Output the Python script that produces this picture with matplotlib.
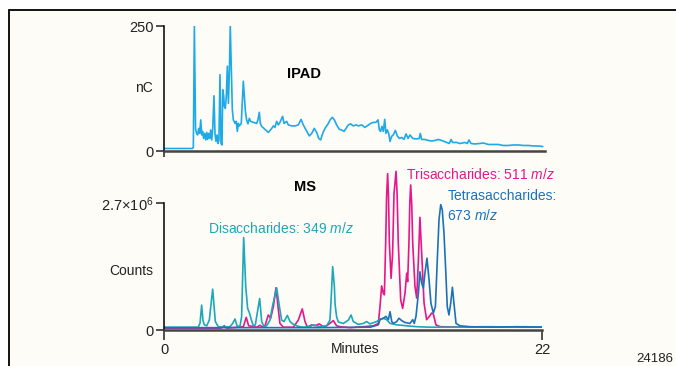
import matplotlib
matplotlib.use('Agg')
import matplotlib.pyplot as plt
from matplotlib.patches import Rectangle

# --- data ---
# IPAD trace (minutes, nC)
ipad_min = [0.00, 1.63, 1.69, 1.75, 1.82, 1.88, 1.94, 2.00, 2.06, 2.12, 2.18, 2.23, 2.29, 2.35,
            2.41, 2.47, 2.52, 2.58, 2.64, 2.70, 2.76, 2.82, 2.89, 2.95, 3.01, 3.07, 3.13, 3.18,
            3.24, 3.30, 3.36, 3.40, 3.46, 3.49, 3.55, 3.61, 3.67, 3.73, 3.79, 3.84, 3.90, 3.96,
            4.02, 4.12, 4.19, 4.25, 4.31, 4.37, 4.48, 4.54, 4.60, 4.66, 4.72, 4.79, 4.87, 4.95,
            5.03, 5.18, 5.38, 5.45, 5.53, 5.59, 5.67, 5.86, 6.06, 6.25, 6.35, 6.44, 6.54, 6.64,
            6.73, 6.89, 6.97, 7.12, 7.22, 7.41, 7.61, 7.80, 7.96, 8.09, 8.25, 8.44, 8.58, 8.73,
            8.87, 8.99, 9.10, 9.22, 9.35, 9.55, 9.65, 9.78, 9.90, 10.03, 10.19, 10.32, 10.46,
            10.58, 10.71, 10.85, 11.00, 11.16, 11.31, 11.49, 11.68, 11.88, 12.01, 12.17, 12.32,
            12.44, 12.52, 12.59, 12.67, 12.75, 12.83, 12.90, 12.98, 13.06, 13.14, 13.23, 13.33,
            13.45, 13.56, 13.68, 13.82, 13.95, 14.07, 14.19, 14.30, 14.46, 14.69, 14.84, 14.90,
            14.98, 15.17, 15.37, 15.56, 15.76, 15.95, 16.14, 16.43, 16.59, 16.69, 16.78, 17.02,
            17.21, 17.50, 17.64, 17.73, 17.85, 18.08, 18.37, 18.57, 18.86, 19.15, 19.44, 19.73,
            20.02, 20.31, 20.61, 20.90, 21.19, 21.48, 21.77, 22.02]
ipad_nc = [6, 6, 8, 250, 45, 36, 33, 46, 36, 63, 33, 40, 26, 36,
           23, 38, 24, 36, 26, 43, 23, 46, 111, 36, 20, 33, 16, 23,
           153, 16, 13, 123, 110, 90, 86, 110, 170, 96, 163, 250, 163, 83,
           63, 56, 60, 40, 56, 51, 56, 96, 140, 110, 80, 63, 55, 66,
           60, 58, 56, 63, 78, 56, 50, 44, 38, 46, 51, 48, 60, 53,
           58, 70, 56, 60, 53, 51, 51, 53, 64, 53, 43, 31, 36, 46,
           38, 26, 23, 36, 46, 56, 63, 68, 63, 53, 44, 43, 40,
           46, 53, 55, 51, 53, 51, 53, 48, 53, 56, 58, 58,
           63, 43, 40, 50, 40, 64, 36, 43, 36, 20, 30, 33,
           42, 31, 26, 28, 24, 35, 26, 33, 26, 25, 26, 36,
           24, 24, 22, 21, 22, 24, 22, 18, 16, 24, 18, 18,
           16, 18, 16, 23, 16, 15, 16, 17, 14, 14, 14, 12,
           12, 13, 13, 12, 12, 11, 11, 10]

# MS traces (minutes, counts in millions)
di_min = [0.00, 1.98, 2.08, 2.175, 2.25, 2.33, 2.47, 2.62, 2.815, 2.97, 3.145, 3.44, 3.82, 3.98,
          4.115, 4.25, 4.41, 4.50, 4.62, 4.74, 4.85, 4.95, 5.07, 5.18, 5.30, 5.41, 5.55, 5.67,
          5.80, 5.96, 6.15, 6.31, 6.54, 6.70, 6.83, 6.97, 7.16, 7.32, 7.47, 7.70, 7.90, 8.09,
          8.48, 8.67, 8.87, 9.06, 9.45, 9.64, 9.70, 9.80, 9.90, 9.94, 10.03, 10.13, 10.42,
          10.71, 10.87, 11.00, 11.29, 11.59, 11.78, 11.97, 12.36, 12.56, 12.75, 12.94, 13.14,
          13.53, 14.11, 14.69, 15.47, 17.00, 18.50, 20.00, 21.00, 22.00]
di_counts = [0.06, 0.06, 0.15, 0.53, 0.20, 0.11, 0.09, 0.21, 0.87, 0.18, 0.07, 0.06, 0.07, 0.14,
             0.235, 0.07, 0.09, 0.28, 1.97, 0.92, 0.46, 0.37, 0.21, 0.09, 0.11, 0.36, 0.67, 0.18,
             0.07, 0.09, 0.21, 0.53, 0.90, 0.50, 0.21, 0.18, 0.31, 0.18, 0.13, 0.09, 0.07, 0.06,
             0.07, 0.11, 0.09, 0.07, 0.09, 0.21, 0.57, 1.35, 0.92, 0.55, 0.28, 0.17, 0.14,
             0.21, 0.32, 0.18, 0.12, 0.14, 0.18, 0.13, 0.18, 0.23, 0.25, 0.22, 0.14,
             0.11, 0.09, 0.07, 0.06, 0.06, 0.07, 0.06, 0.07, 0.06]

tri_min = [0.00, 3.30, 3.49, 3.63, 4.60, 4.77, 4.91, 5.38, 5.57, 5.73, 5.86, 6.055, 6.19, 6.35,
           6.50, 6.64, 6.73, 6.93, 7.51, 7.80, 8.03, 8.19, 8.33, 8.58, 8.77, 9.02, 9.26, 9.45,
           9.84, 10.03, 10.23, 10.81, 11.59, 12.17, 12.46, 12.555, 12.65, 12.75, 12.81, 12.885,
           12.94, 13.00, 13.05, 13.10, 13.20, 13.29, 13.37, 13.49, 13.55, 13.62, 13.76, 13.875,
           14.01, 14.11, 14.165, 14.24, 14.29, 14.34, 14.40, 14.46, 14.59, 14.69, 14.79, 14.88,
           15.00, 15.12, 15.27, 15.43, 15.56, 15.66, 15.81, 16.05, 17.50, 19.00, 20.50, 22.00]
tri_counts = [0.04, 0.04, 0.09, 0.04, 0.07, 0.27, 0.09, 0.06, 0.10, 0.06, 0.09, 0.32, 0.25, 0.50,
              0.90, 0.43, 0.14, 0.06, 0.06, 0.21, 0.45, 0.18, 0.06, 0.11, 0.09, 0.13, 0.07, 0.09,
              0.20, 0.09, 0.07, 0.05, 0.07, 0.09, 0.14, 0.50, 0.94, 0.78, 0.75, 1.85,
              2.85, 3.33, 2.85, 1.85, 1.10, 1.64, 2.90, 3.38, 2.90, 1.85, 0.64, 0.46,
              0.78, 1.21, 1.03, 1.85, 2.70, 3.09, 2.70, 1.85, 0.93, 0.68, 1.49, 2.40,
              1.49, 0.57, 0.22, 0.29, 0.36, 0.34, 0.11, 0.07, 0.06, 0.07, 0.06, 0.06]

tetra_min = [0.00, 6.00, 9.00, 12.00, 12.46, 12.555, 12.75, 12.90, 13.04, 13.14, 13.24, 13.33,
             13.53, 13.66, 13.82, 14.01, 14.30, 14.46, 14.55, 14.65, 14.79, 14.88, 14.98, 15.08,
             15.17, 15.29, 15.41, 15.52, 15.66, 15.78, 15.89, 15.99, 16.09, 16.18, 16.28, 16.38,
             16.47, 16.57, 16.67, 16.77, 16.86, 16.98, 17.21, 17.79, 19.00, 20.50, 22.00]
tetra_counts = [0.05, 0.05, 0.05, 0.06, 0.11, 0.22, 0.25, 0.29, 0.22, 0.39, 0.18, 0.14,
                0.18, 0.25, 0.20, 0.16, 0.14, 0.22, 0.14, 0.29, 0.78, 1.24, 1.00, 0.89,
                1.21, 1.53, 1.07, 0.57, 0.36, 0.50, 1.49, 2.35, 2.67, 2.56, 2.06, 1.28,
                0.50, 0.32, 0.57, 0.91, 0.57, 0.14, 0.09, 0.07, 0.06, 0.07, 0.06]

ipad_color = '#1eaae7'
di_color = '#1ba8ba'
tri_color = '#e8168b'
tetra_color = '#1c72b8'

plt.rcParams['font.family'] = ['Liberation Sans', 'DejaVu Sans']
plt.rcParams['mathtext.fontset'] = 'custom'
plt.rcParams['mathtext.rm'] = 'Liberation Sans'
plt.rcParams['mathtext.it'] = 'Liberation Sans:italic'
plt.rcParams['mathtext.default'] = 'regular'
plt.rcParams['font.size'] = 10

W, H = 676, 366
X0, PPM = 164.3, 17.18   # axis origin pixel, pixels per minute


def fx(x):
    return x / W


def fy(y):
    return 1 - y / H


fig = plt.figure(figsize=(W / 100, H / 100), dpi=100)
fig.patch.set_facecolor('white')
fig.add_artist(Rectangle((fx(9), -0.05), 1.0, fy(10) + 0.05, transform=fig.transFigure,
                         facecolor='#fdfcf6', edgecolor='black', lw=1.3, zorder=0))

# upper panel: IPAD
ax1 = fig.add_axes([fx(X0), fy(151.5), 22.15 * PPM / W, 125.5 / H])
ax1.plot(ipad_min, ipad_nc, color=ipad_color, lw=1.2)
ax1.set_xlim(0, 22.15)
ax1.set_ylim(0, 250)

# lower panel: MS
ax2 = fig.add_axes([fx(X0), fy(330), 22 * PPM / W, (330 - 165.7) / H])
ax2.plot(tri_min, tri_counts, color=tri_color, lw=1.2)
ax2.plot(di_min, di_counts, color=di_color, lw=1.2)
ax2.plot(tetra_min, tetra_counts, color=tetra_color, lw=1.2)
ax2.set_xlim(0, 22)
ax2.set_ylim(0, 3.5)

for ax in (ax1, ax2):
    ax.set_facecolor('none')
    ax.spines['top'].set_visible(False)
    ax.spines['right'].set_visible(False)
    ax.spines['left'].set_linewidth(1.1)
    ax.spines['left'].set_color('black')
    ax.spines['bottom'].set_linewidth(1.8)
    ax.spines['bottom'].set_color('#444444')
    ax.tick_params(axis='y', length=5.5, width=1.1, pad=2, labelsize=10.5, colors='#222222')
    ax.tick_params(axis='x', width=1.1, labelsize=10.5, colors='#222222')

ax1.spines['left'].set_bounds(0, 250)
ax1.set_yticks([0, 250])
ax1.set_yticklabels(['0', '250'])
ax1.set_xticks([0])
ax1.set_xticklabels([''])
ax1.tick_params(axis='x', length=4.5)

ax2.spines['left'].set_bounds(0, 2.7)
ax2.set_yticks([0, 2.7])
ax2.set_yticklabels(['0', r'2.7×10$^{6}$'])
ax2.set_xticks([0, 22])
ax2.set_xticklabels(['0', '22'])
ax2.tick_params(axis='x', length=7, pad=2)

# labels
fig.text(fx(153), fy(92), 'nC', ha='right', va='baseline', color='#222222')
fig.text(fx(153.3), fy(275), 'Counts', ha='right', va='baseline', color='#222222')
fig.text(fx(303.5), fy(78.3), 'IPAD', ha='center', va='baseline', weight='bold', fontsize=10.5)
fig.text(fx(305), fy(191), 'MS', ha='center', va='baseline', weight='bold', fontsize=10.5)
fig.text(fx(355.3), fy(353), 'Minutes', ha='center', va='baseline', color='#222222')
fig.text(fx(673), fy(361.7), '24186', ha='right', va='baseline', fontsize=9.5, color='#222222')

ax2.text(2.54, 2.07, r'Disaccharides: 349 $\mathit{m/z}$', color=di_color, va='baseline', clip_on=False)
ax2.text(14.07, 3.21, r'Trisaccharides: 511 $\mathit{m/z}$', color=tri_color, va='baseline', clip_on=False)
ax2.text(16.47, 2.77, 'Tetrasaccharides:', color=tetra_color, va='baseline', clip_on=False)
ax2.text(16.47, 2.34, r'673 $\mathit{m/z}$', color=tetra_color, va='baseline', clip_on=False)

fig.savefig('out.png', dpi=100)
